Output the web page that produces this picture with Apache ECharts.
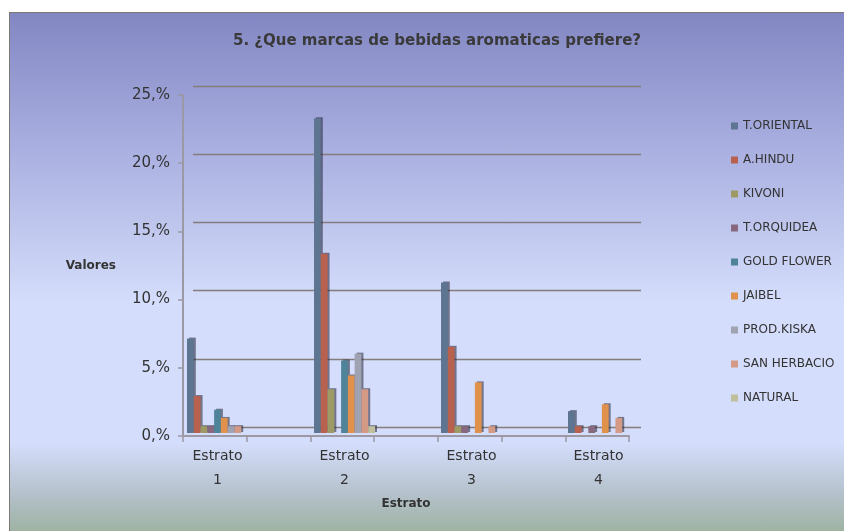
<!DOCTYPE html>
<html>
<head>
<meta charset="utf-8">
<script src="https://cdn.jsdelivr.net/npm/echarts@6/dist/echarts.min.js"></script>
<style>
  html, body { margin:0; padding:0; background:#ffffff; }
  #frame { position:absolute; left:9px; top:12px; width:840px; height:525px;
    border-left:1px solid #7e7876; border-top:1px solid #7e7876;
    background: linear-gradient(to bottom, #8287c3 0%, #a8aedf 25%, #d4ddfb 55%, #d4ddfb 82%, #b3c0c9 92%, #9bb19c 100%); }
  #chart { position:absolute; left:0; top:0; width:844px; height:531px; }
</style>
</head>
<body>
<div id="frame"></div>
<div id="chart"></div>
<script>
const categories = ['Estrato\n1', 'Estrato\n2', 'Estrato\n3', 'Estrato\n4'];
const seriesNames = ['T.ORIENTAL', 'A.HINDU', 'KIVONI', 'T.ORQUIDEA', 'GOLD FLOWER', 'JAIBEL', 'PROD.KISKA', 'SAN HERBACIO', 'NATURAL'];
const tOriental   = [6.9, 23.0, 11.0, 1.6];
const aHindu      = [2.7, 13.1, 6.3, 0.5];
const kivoni      = [0.5, 3.2, 0.5, 0];
const tOrquidea   = [0.5, 0, 0.5, 0.5];
const goldFlower  = [1.7, 5.3, 0, 0];
const jaibel      = [1.1, 4.2, 3.7, 2.1];
const prodKiska   = [0.5, 5.8, 0, 0];
const sanHerbacio = [0.5, 3.2, 0.5, 1.1];
const natural     = [0, 0.5, 0, 0];
const yTicks = [0, 5, 10, 15, 20, 25];

const values = [tOriental, aHindu, kivoni, tOrquidea, goldFlower, jaibel, prodKiska, sanHerbacio, natural];
const colors = ['#5e7591', '#b8614f', '#9d9a66', '#87687f', '#4f8399', '#e0914c', '#9fa3b1', '#d49a86', '#bfbf9c'];

const chart = echarts.init(document.getElementById('chart'));
const FF = 'DejaVu Sans';
const yMax = yTicks[yTicks.length - 1];
const yStep = yTicks[1] - yTicks[0];

chart.setOption({
  animation: false,
  color: colors,
  title: {
    text: '5. ¿Que marcas de bebidas aromaticas prefiere?',
    left: 432, top: 29, textAlign: 'center',
    textStyle: { fontFamily: FF, fontSize: 15, fontWeight: 'bold', color: '#3a3a3a' }
  },
  legend: {
    orient: 'vertical', left: 726, top: 114,
    itemWidth: 7, itemHeight: 7, itemGap: 20,
    icon: 'rect',
    data: seriesNames,
    textStyle: { fontFamily: FF, fontSize: 12, color: '#333', lineHeight: 14 }
  },
  grid: [
    { left: 154, width: 508, top: 91, height: 342 },   // bars
    { left: 183, width: 446, top: 95, height: 341 },   // front axes
    { left: 193, width: 448, top: 86, height: 341 }    // back wall
  ],
  xAxis: [
    { type: 'category', gridIndex: 0, data: categories,
      axisLine: { show: false }, axisTick: { show: false },
      axisLabel: { fontFamily: FF, fontSize: 14, color: '#333', lineHeight: 24, margin: 11 } },
    { type: 'value', gridIndex: 1, min: 0, max: 7, interval: 1,
      name: 'Estrato', nameLocation: 'middle', nameGap: 62,
      nameTextStyle: { fontFamily: FF, fontSize: 12, fontWeight: 'bold', color: '#333' },
      axisLine: { show: true, lineStyle: { color: '#9c98a4', width: 2 } },
      axisTick: { show: true, length: 6, lineStyle: { color: '#9c98a4', width: 1.5 } },
      axisLabel: { show: false }, splitLine: { show: false } },
    { type: 'value', gridIndex: 2, min: 0, max: 1, show: false }
  ],
  yAxis: [
    { type: 'value', gridIndex: 0, min: 0, max: yMax, interval: yStep, show: false },
    { type: 'value', gridIndex: 1, min: 0, max: yMax, interval: yStep,
      name: 'Valores', nameLocation: 'middle', nameGap: 67, nameRotate: 0,
      nameTextStyle: { fontFamily: FF, fontSize: 12, fontWeight: 'bold', color: '#333' },
      axisLine: { show: true, lineStyle: { color: '#9c98a4', width: 2 } },
      axisTick: { show: true, length: 5, lineStyle: { color: '#9c98a4', width: 1.5 } },
      axisLabel: { fontFamily: FF, fontSize: 15, color: '#333', margin: 13, formatter: v => v + ',%' },
      splitLine: { show: false } },
    { type: 'value', gridIndex: 2, min: 0, max: yMax, interval: yStep,
      axisLine: { show: false }, axisTick: { show: false }, axisLabel: { show: false },
      splitLine: { show: true, lineStyle: { color: '#857c7c', width: 1.3 } } }
  ],
  series: seriesNames.map((name, i) => ({
    name, type: 'bar', xAxisIndex: 0, yAxisIndex: 0,
    data: values[i],
    barGap: '0%', barCategoryGap: '52%',
    itemStyle: { color: colors[i], shadowColor: 'rgba(30,30,50,0.55)', shadowOffsetX: 2, shadowOffsetY: -1, shadowBlur: 0 }
  }))
});
</script>
</body>
</html>
